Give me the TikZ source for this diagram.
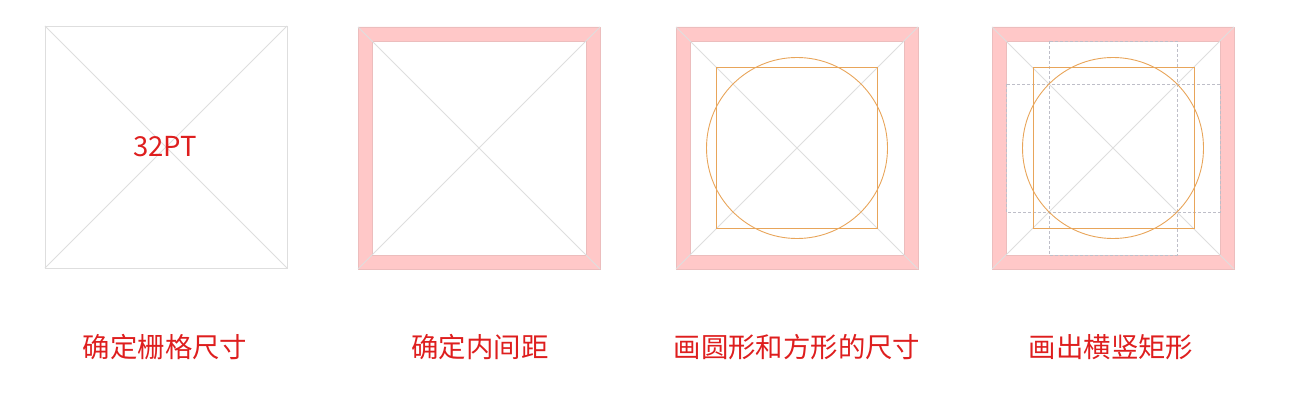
\documentclass[tikz,border=0pt]{standalone}
\usepackage{fontspec}
\newfontfamily\cjk{Noto Sans CJK SC}
\usepackage{tikz}
\definecolor{capred}{RGB}{222,30,30}
\definecolor{framepink}{RGB}{255,200,200}
\definecolor{gridgray}{RGB}{222,222,222}
\definecolor{guideorange}{RGB}{232,165,90}
\definecolor{dashgray}{RGB}{190,190,200}

\begin{document}
\begin{tikzpicture}[x=1pt, y=-1pt,
	gridline/.style={draw=gridgray, line width=0.8pt},
	padframe/.style={fill=framepink, draw=framepink!85!gray, line width=0.6pt, even odd rule},
	guide/.style={draw=guideorange, line width=0.9pt},
	dashguide/.style={draw=dashgray, line width=0.7pt, dash pattern=on 3pt off 2pt},
	caption/.style={font=\cjk\fontsize{27.4}{27.4}\selectfont, text=capred}]
	\useasboundingbox (0, 0) rectangle (1292, 409);
	% grid size
	\draw [gridline] (45, 26) rectangle (287, 268);
	\draw [gridline] (45, 26) -- (287, 268);
	\draw [gridline] (287, 26) -- (45, 268);
	\node (size) [font=\cjk\fontsize{27.5}{27.5}\selectfont, text=capred] at (165, 147) {32PT};
	% inner padding
	\fill [padframe] (358, 27) rectangle (600, 269) (372, 41) rectangle (586, 255);
	\draw [gridline] (358, 27) -- (600, 269);
	\draw [gridline] (600, 27) -- (358, 269);
	% circle and square
	\fill [padframe] (676, 27) rectangle (918, 269) (690, 41) rectangle (904, 255);
	\draw [gridline] (676, 27) -- (918, 269);
	\draw [gridline] (918, 27) -- (676, 269);
	\draw [guide] (716, 67) rectangle (877, 228);
	\draw [guide] (797, 148) circle [radius = 90.5];
	% upright and flat rectangles
	\fill [padframe] (992, 27) rectangle (1234, 269) (1006, 41) rectangle (1220, 255);
	\draw [gridline] (992, 27) -- (1234, 269);
	\draw [gridline] (1234, 27) -- (992, 269);
	\draw [dashguide] (1049, 41) rectangle (1177, 255);
	\draw [dashguide] (1006, 84) rectangle (1220, 212);
	\draw [guide] (1033, 67) rectangle (1194, 228);
	\draw [guide] (1113, 148) circle [radius = 90.5];
	% captions
	\node (stepa) [caption] at (165, 347) {确定栅格尺寸};
	\node (stepb) [caption] at (480, 347) {确定内间距};
	\node (stepc) [caption] at (797, 347) {画圆形和方形的尺寸};
	\node (stepd) [caption] at (1111, 347) {画出横竖矩形};
\end{tikzpicture}
\end{document}
